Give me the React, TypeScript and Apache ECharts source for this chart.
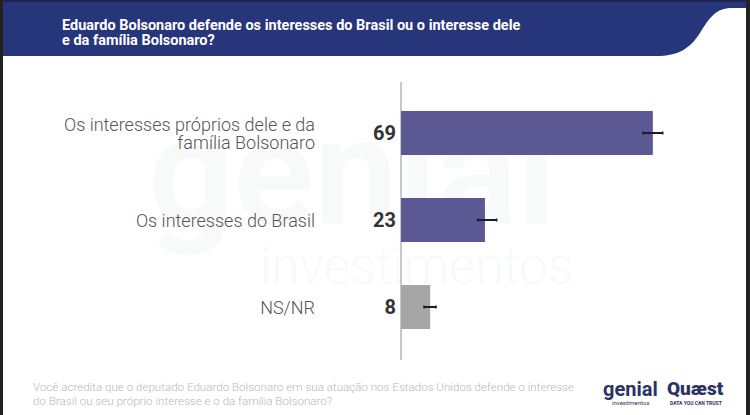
import React, { useEffect, useRef } from "react";
import * as echarts from "echarts";

const categories = [
  "Os interesses próprios dele e da\nfamília Bolsonaro",
  "Os interesses do Brasil",
  "NS/NR",
];
const values = [69, 23, 8];
const barColors = ["#5c5894", "#5c5894", "#a6a6a6"];
const errorLow = [66.3, 21.0, 6.3];
const errorHigh = [71.7, 26.2, 9.6];

const titleText =
  "Eduardo Bolsonaro defende os interesses do Brasil ou o interesse dele\ne da família Bolsonaro?";
const footerText =
  "Você acredita que o deputado Eduardo Bolsonaro em sua atuação nos Estados Unidos defende o interesse\ndo Brasil ou seu próprio interesse e o da família Bolsonaro?";

const wavePath =
  "M 655 56 C 680 56 690 48 700 33 C 710 17 716 8 732 8 L 750 8 L 750 56 Z";
let registered = false;

export default function App() {
  const ref = useRef<HTMLDivElement>(null);
  useEffect(() => {
    document.body.style.margin = "0";
    if (!registered) {
      echarts.graphic.registerShape("hdrWave", echarts.graphic.extendPath(wavePath, {}));
      registered = true;
    }
    const chart = echarts.init(ref.current!, null, { renderer: "svg" });
    const font = "Roboto";
    chart.setOption({
      animation: false,
      backgroundColor: "#ffffff",
      grid: { left: 401, top: 89.5, height: 261, width: 292 },
      xAxis: {
        type: "value",
        min: 0,
        max: 80,
        show: false,
      },
      yAxis: {
        type: "category",
        data: categories,
        inverse: true,
        axisLine: { show: false },
        axisTick: { show: false },
        splitLine: { show: false },
        axisLabel: {
          margin: 86,
          fontSize: 18,
          fontWeight: 300,
          fontFamily: font,
          color: "#555555",
          lineHeight: 18,
          align: "right",
        },
      },
      graphic: [
        {
          type: "text",
          z: 0,
          silent: true,
          style: {
            x: 148,
            y: 248,
            text: "genial",
            fill: "#f8f9f9",
            font: `600 150px ${font}`,
            textVerticalAlign: "bottom",
          },
        },
        {
          type: "text",
          z: 0,
          silent: true,
          style: {
            x: 260,
            y: 292,
            text: "investimentos",
            fill: "#f8f9f9",
            font: `300 51px ${font}`,
            textVerticalAlign: "bottom",
          },
        },
        {
          type: "rect",
          shape: { x: 0, y: 0, width: 750, height: 56 },
          style: { fill: "#27357a" },
        },
        {
          type: "hdrWave",
          x: 0,
          y: 0,
          style: { fill: "#ffffff" },
        },
        {
          type: "rect",
          shape: { x: 0, y: 0, width: 750, height: 2 },
          style: { fill: "#1c2452" },
        },
        {
          type: "rect",
          shape: { x: 0, y: 0, width: 3, height: 415 },
          style: { fill: "#222222" },
        },
        {
          type: "rect",
          shape: { x: 746, y: 0, width: 4, height: 415 },
          style: { fill: "#222222" },
        },
        {
          type: "text",
          style: {
            x: 62,
            y: 18,
            text: titleText,
            fill: "#ffffff",
            font: `bold 14.5px ${font}`,
            lineHeight: 15,
          },
        },
        {
          type: "line",
          shape: { x1: 401, y1: 82, x2: 401, y2: 360 },
          style: { stroke: "#c8c8c8", lineWidth: 2 },
        },
        {
          type: "text",
          style: {
            x: 33,
            y: 380,
            text: footerText,
            fill: "#b8b8b8",
            font: `300 11.6px ${font}`,
            lineHeight: 14,
          },
        },
        {
          type: "text",
          style: {
            x: 603,
            y: 379,
            text: "genial",
            fill: "#2a3266",
            font: `bold 20px ${font}`,
          },
        },
        {
          type: "text",
          style: {
            x: 612,
            y: 399,
            text: "investimentos",
            fill: "#2a3266",
            font: `400 6px ${font}`,
          },
        },
        {
          type: "text",
          style: {
            x: 667,
            y: 379,
            text: "Quæst",
            fill: "#2a3266",
            font: `900 19px ${font}`,
          },
        },
        {
          type: "text",
          style: {
            x: 670,
            y: 400,
            text: "DATA YOU CAN TRUST",
            fill: "#2a3266",
            font: `bold 5px ${font}`,
          },
        },
      ],
      series: [
        {
          type: "bar",
          barWidth: 44,
          z: 3,
          data: values.map((v, i) => ({ value: v, itemStyle: { color: barColors[i] } })),
          label: {
            show: true,
            position: "left",
            distance: 5,
            fontSize: 20,
            fontWeight: "bold",
            fontFamily: font,
            color: "#333333",
            formatter: "{c}",
          },
        },
        {
          type: "custom",
          z: 5,
          data: values.map((_, i) => [i, errorLow[i], errorHigh[i]]),
          encode: { x: [1, 2], y: 0 },
          renderItem: (params: any, api: any) => {
            const idx = api.value(0);
            const p1 = api.coord([api.value(1), idx]);
            const p2 = api.coord([api.value(2), idx]);
            const st = { stroke: "#1a1a33", lineWidth: 2 };
            return {
              type: "group",
              children: [
                { type: "line", shape: { x1: p1[0], y1: p1[1], x2: p2[0], y2: p2[1] }, style: st },
                { type: "line", shape: { x1: p1[0], y1: p1[1] - 1.5, x2: p1[0], y2: p1[1] + 1.5 }, style: { ...st, lineWidth: 1.5 } },
                { type: "line", shape: { x1: p2[0], y1: p2[1] - 1.5, x2: p2[0], y2: p2[1] + 1.5 }, style: { ...st, lineWidth: 1.5 } },
              ],
            };
          },
        },
      ],
    });
    return () => chart.dispose();
  }, []);
  return (
    <div
      ref={ref}
      style={{ position: "absolute", left: 0, top: 0, width: 750, height: 415 }}
    />
  );
}
